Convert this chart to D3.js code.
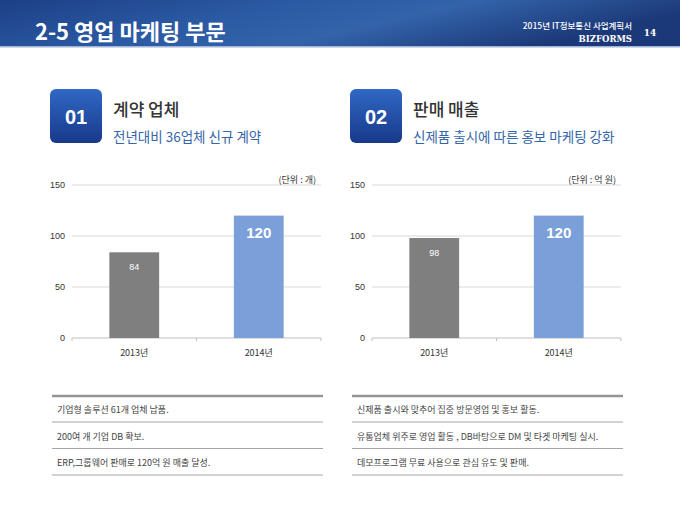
<!DOCTYPE html>
<html>
<head>
<meta charset="utf-8">
<script src="https://cdn.jsdelivr.net/npm/d3@7"></script>
<style>
body { margin: 0; background: #fff; }
text { font-family: "Noto Sans CJK KR", "Noto Sans", sans-serif; }
</style>
</head>
<body>
<div id="chart"></div>
<script>
var w = 680;
var h = 510;

// data
var categories = ["2013년", "2014년"];
var contractValues = [84, 120];
var salesValues = [98, 120];
var yTicks = [0, 50, 100, 150];
var leftNotes = ["기업형 솔루션 61개 업체 납품.", "200여 개 기업 DB 확보.", "ERP,그룹웨어 판매로 120억 원 매출 달성."];
var rightNotes = ["신제품 출시와 맞추어 집중 방문영업 및 홍보 활동.", "유통업체 위주로 영업 활동 , DB바탕으로 DM 및 타겟 마케팅 실시.", "데모프로그램 무료 사용으로 관심 유도 및 판매."];

var barColors = ["#7f7f7f", "#7b9fd9"];

var svg = d3.select("#chart").append("svg").attr("width", w).attr("height", h);
var defs = svg.append("defs");

var bg = defs.append("linearGradient").attr("id", "banner").attr("x1", 0).attr("x2", 1).attr("y1", 0).attr("y2", 0.3);
bg.append("stop").attr("offset", "0%").attr("stop-color", "#1d3f86");
bg.append("stop").attr("offset", "40%").attr("stop-color", "#2a5aa3");
bg.append("stop").attr("offset", "65%").attr("stop-color", "#3363a9");
bg.append("stop").attr("offset", "100%").attr("stop-color", "#1b3878");

var bx = defs.append("linearGradient").attr("id", "box").attr("x1", 0).attr("x2", 0).attr("y1", 0).attr("y2", 1);
bx.append("stop").attr("offset", "0%").attr("stop-color", "#3068c4");
bx.append("stop").attr("offset", "100%").attr("stop-color", "#17398a");

// banner
svg.append("rect").attr("x", 0).attr("y", 0).attr("width", w).attr("height", 47).style("fill", "url(#banner)");
svg.append("rect").attr("x", 0).attr("y", 46).attr("width", w).attr("height", 1.5).style("fill", "#9fb3d6");
svg.append("text").text("2-5 영업 마케팅 부문")
    .attr("x", 35).attr("y", 40)
    .attr("font-size", "22px").attr("font-weight", "bold").style("fill", "#fff");
svg.append("text").text("2015년 IT정보통신 사업계획서")
    .attr("x", 632).attr("y", 29).attr("text-anchor", "end")
    .attr("font-size", "8.5px").attr("font-weight", 500).style("fill", "#fff");
svg.append("text").text("BIZFORMS")
    .attr("x", 632).attr("y", 42).attr("text-anchor", "end")
    .attr("font-size", "8.5px").attr("font-weight", "bold").style("fill", "#fff")
    .style("font-family", "'DejaVu Serif', serif");
svg.append("text").text("14")
    .attr("x", 650).attr("y", 36).attr("text-anchor", "middle")
    .attr("font-size", "9px").attr("font-weight", "bold").style("fill", "#fff")
    .style("font-family", "'DejaVu Serif', serif");

function panel(ox, num, title, sub, unit, values, notes) {
    var g = svg.append("g").attr("transform", "translate(" + ox + ",0)");

    // heading
    g.append("rect").attr("x", 50).attr("y", 89).attr("width", 52).attr("height", 54)
        .attr("rx", 6).style("fill", "url(#box)");
    g.append("text").text(num).attr("x", 76).attr("y", 124).attr("text-anchor", "middle")
        .attr("font-size", "20px").attr("font-weight", "bold").style("fill", "#fff")
        .style("font-family", "'Liberation Sans', Arial, sans-serif");
    g.append("text").text(title).attr("x", 113).attr("y", 116)
        .attr("font-size", "17px").attr("font-weight", 500).style("fill", "#333");
    g.append("text").text(sub).attr("x", 113).attr("y", 142)
        .attr("font-size", "13.5px").style("fill", "#3466a9");

    // chart
    var x = d3.scaleBand().domain(categories).range([72, 321]).paddingInner(0.6).paddingOuter(0.3);
    var y = d3.scaleLinear().domain([0, 150]).range([338, 185]);
    var step = x.step();

    g.selectAll(".grid").data(yTicks.slice(1)).enter().append("line")
        .attr("x1", 72).attr("x2", 321)
        .attr("y1", function(d){ return y(d); })
        .attr("y2", function(d){ return y(d); })
        .style("stroke", "#d9d9d9").style("stroke-width", 1);

    var yAxis = g.append("g").attr("transform", "translate(65,0)")
        .call(d3.axisLeft(y).tickValues(yTicks).tickSize(0).tickPadding(0));
    yAxis.select(".domain").remove();
    yAxis.selectAll("text").attr("font-size", "9px").style("fill", "#333")
        .style("font-family", "'Liberation Sans', Arial, sans-serif");

    // x axis line and boundary ticks
    g.append("line").attr("x1", 72).attr("x2", 321).attr("y1", y(0)).attr("y2", y(0))
        .style("stroke", "#bfbfbf");
    var bounds = [categories[0]].concat(categories);
    g.selectAll(".btick").data(bounds).enter().append("line")
        .attr("x1", function(d, i){ return i == 0 ? x(d) + x.bandwidth()/2 - step/2 : x(d) + x.bandwidth()/2 + step/2; })
        .attr("x2", function(d, i){ return i == 0 ? x(d) + x.bandwidth()/2 - step/2 : x(d) + x.bandwidth()/2 + step/2; })
        .attr("y1", y(0)).attr("y2", y(0) + 3)
        .style("stroke", "#bfbfbf");

    var xAxis = g.append("g").attr("transform", "translate(0," + y(0) + ")")
        .call(d3.axisBottom(x).tickSize(0).tickPadding(12));
    xAxis.select(".domain").remove();
    xAxis.selectAll("text").attr("font-size", "9px").style("fill", "#333");

    g.selectAll(".bar").data(values).enter().append("rect")
        .attr("x", function(d, i){ return x(categories[i]); })
        .attr("y", function(d){ return y(d); })
        .attr("width", x.bandwidth())
        .attr("height", function(d){ return y(0) - y(d); })
        .style("fill", function(d, i){ return barColors[i]; });

    g.selectAll(".val").data(values).enter().append("text")
        .text(function(d){ return d; })
        .attr("x", function(d, i){ return x(categories[i]) + x.bandwidth()/2; })
        .attr("y", function(d, i){ return y(d) + (i == 1 ? 22 : 18); })
        .attr("text-anchor", "middle")
        .attr("font-size", function(d, i){ return i == 1 ? "15px" : "9px"; })
        .attr("font-weight", function(d, i){ return i == 1 ? "bold" : "normal"; })
        .style("fill", "#fff")
        .style("font-family", "'Liberation Sans', Arial, sans-serif");

    g.append("text").text(unit).attr("x", 316).attr("y", 183).attr("text-anchor", "end")
        .attr("font-size", "9px").style("fill", "#333");

    // notes table
    g.append("line").attr("x1", 52).attr("x2", 323).attr("y1", 396).attr("y2", 396)
        .style("stroke", "#959595").style("stroke-width", 2.5);
    g.selectAll(".row").data(notes).enter().append("line")
        .attr("x1", 52).attr("x2", 323)
        .attr("y1", function(d, i){ return 422 + i * 26.5; })
        .attr("y2", function(d, i){ return 422 + i * 26.5; })
        .style("stroke", "#a6a6a6").style("stroke-width", 1);
    g.selectAll(".note").data(notes).enter().append("text")
        .text(function(d){ return d; })
        .attr("x", 57)
        .attr("y", function(d, i){ return 413 + i * 26.5; })
        .attr("font-size", "9px").style("fill", "#444");
}

panel(0, "01", "계약 업체", "전년대비 36업체 신규 계약", "(단위 : 개)", contractValues, leftNotes);
panel(300, "02", "판매 매출", "신제품 출시에 따른 홍보 마케팅 강화", "(단위 : 억 원)", salesValues, rightNotes);
</script>
</body>
</html>
